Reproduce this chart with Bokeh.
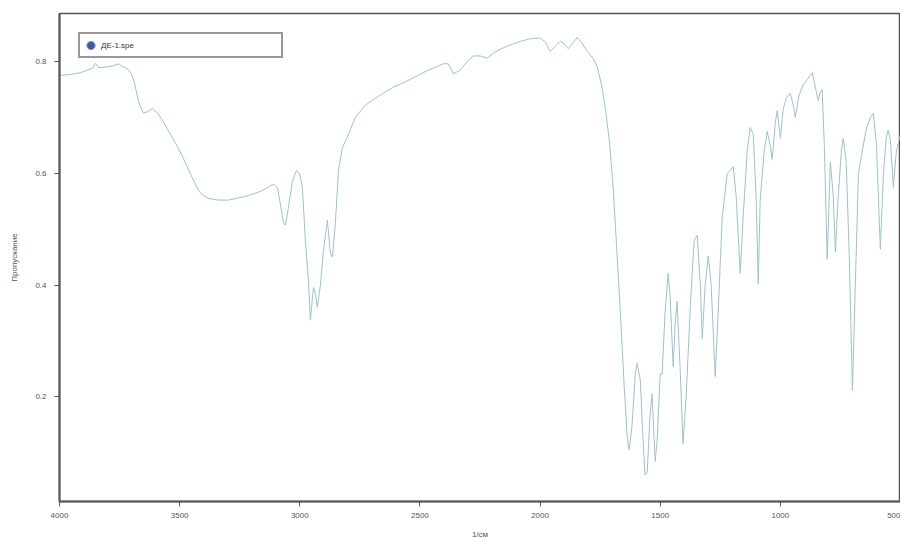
from bokeh.plotting import figure
from bokeh.models import ColumnDataSource, Range1d, Legend, LegendItem, FixedTicker
from bokeh.embed import file_html
from bokeh.resources import INLINE

# Wavenumber (1/см) and transmittance
wavenumber = [4000, 3954, 3913, 3863, 3850, 3838, 3809, 3780, 3755, 3734, 3717, 3700, 3688, 3671,
              3651, 3634, 3613, 3592, 3572, 3547, 3517, 3488, 3463, 3443, 3422, 3401, 3380, 3339,
              3297, 3255, 3214, 3172, 3143, 3122, 3106, 3093, 3081, 3068, 3060, 3047, 3031, 3014,
              3002, 2989, 2977, 2964, 2956, 2943, 2935, 2927, 2914, 2902, 2885, 2873, 2864, 2852,
              2839, 2823, 2802, 2769, 2727, 2665, 2611, 2540, 2469, 2423, 2403, 2382, 2369, 2361,
              2344, 2332, 2303, 2278, 2249, 2220, 2195, 2166, 2124, 2082, 2041, 1999, 1978, 1958,
              1941, 1916, 1899, 1883, 1866, 1845, 1824, 1803, 1778, 1762, 1745, 1729, 1712, 1695,
              1679, 1662, 1650, 1637, 1629, 1617, 1604, 1596, 1583, 1571, 1563, 1554, 1542, 1534,
              1521, 1513, 1500, 1492, 1480, 1467, 1459, 1446, 1438, 1430, 1417, 1405, 1392, 1375,
              1359, 1346, 1333, 1325, 1313, 1300, 1288, 1271, 1259, 1242, 1221, 1208, 1196, 1184,
              1167, 1155, 1138, 1126, 1113, 1101, 1092, 1084, 1067, 1055, 1042, 1034, 1021, 1013,
              1000, 988, 975, 959, 946, 938, 922, 905, 888, 876, 867, 855, 842, 834, 826, 817,
              805, 792, 780, 771, 759, 746, 738, 726, 713, 700, 688, 675, 659, 642, 625, 613,
              600, 592, 584, 571, 559, 551, 542, 530, 517, 500]
transmittance = [0.775, 0.777, 0.780, 0.788, 0.797, 0.789, 0.790, 0.792, 0.796, 0.790, 0.787, 0.778,
                 0.762, 0.728, 0.708, 0.710, 0.716, 0.708, 0.695, 0.676, 0.654, 0.630, 0.606, 0.588,
                 0.570, 0.560, 0.555, 0.552, 0.552, 0.556, 0.560, 0.566, 0.572, 0.578, 0.580, 0.574,
                 0.545, 0.512, 0.507, 0.539, 0.585, 0.605, 0.600, 0.575, 0.480, 0.409, 0.337, 0.396,
                 0.385, 0.360, 0.400, 0.460, 0.516, 0.457, 0.450, 0.510, 0.605, 0.645, 0.665, 0.700,
                 0.722, 0.740, 0.754, 0.768, 0.784, 0.792, 0.796, 0.796, 0.785, 0.778, 0.782, 0.785,
                 0.800, 0.810, 0.810, 0.806, 0.815, 0.822, 0.830, 0.836, 0.841, 0.842, 0.835, 0.818,
                 0.826, 0.836, 0.832, 0.823, 0.832, 0.843, 0.832, 0.818, 0.805, 0.790, 0.760, 0.718,
                 0.660, 0.570, 0.450, 0.320, 0.220, 0.125, 0.105, 0.150, 0.240, 0.260, 0.230, 0.120,
                 0.060, 0.065, 0.170, 0.205, 0.084, 0.120, 0.241, 0.240, 0.350, 0.421, 0.380, 0.254,
                 0.330, 0.371, 0.250, 0.116, 0.200, 0.360, 0.480, 0.489, 0.400, 0.304, 0.400, 0.452,
                 0.400, 0.236, 0.350, 0.520, 0.600, 0.605, 0.612, 0.560, 0.421, 0.520, 0.640, 0.682,
                 0.670, 0.560, 0.402, 0.552, 0.640, 0.675, 0.650, 0.625, 0.690, 0.712, 0.663, 0.715,
                 0.735, 0.743, 0.722, 0.700, 0.740, 0.758, 0.768, 0.775, 0.780, 0.755, 0.730, 0.745,
                 0.750, 0.650, 0.446, 0.620, 0.560, 0.459, 0.560, 0.640, 0.663, 0.620, 0.450, 0.211,
                 0.400, 0.600, 0.640, 0.680, 0.700, 0.707, 0.650, 0.560, 0.464, 0.600, 0.665, 0.677,
                 0.660, 0.575, 0.640, 0.670]

x_ticks = [4000, 3500, 3000, 2500, 2000, 1500, 1000, 500]
y_ticks = [0.2, 0.4, 0.6, 0.8]
series_name = "ДЕ-1.spe"
x_title = "1/см"
y_title = "Пропускание"

src = ColumnDataSource(dict(x=wavenumber, y=transmittance))
# legend proxy: a single marker placed outside the visible x range
proxy = ColumnDataSource(dict(x=[max(wavenumber) + 1000], y=[transmittance[0]]))

p = figure(width=900, height=541, output_backend="svg", toolbar_location=None,
           x_range=Range1d(4000, 500), y_range=Range1d(0.0125, 0.886),
           min_border_left=59, min_border_right=0, min_border_top=13, min_border_bottom=39,
           background_fill_color="white", border_fill_color="white")

line = p.line("x", "y", source=src, line_color="#9cc3c9", line_width=1.0)
marker = p.scatter("x", "y", source=proxy, marker="circle", size=11, fill_color="#3f5c9a",
                   line_color="#8aa0c8", line_width=1)

p.xgrid.visible = False
p.ygrid.visible = False
p.outline_line_color = "#555555"
p.outline_line_width = 1.5

p.xaxis.ticker = FixedTicker(ticks=x_ticks)
p.yaxis.ticker = FixedTicker(ticks=y_ticks)
p.xaxis.axis_label = x_title
p.yaxis.axis_label = y_title
for ax in (p.xaxis[0], p.yaxis[0]):
    ax.axis_line_color = "#555555"
    ax.axis_line_width = 2
    ax.major_tick_line_color = "#555555"
    ax.major_tick_out = 5
    ax.major_tick_in = 0
    ax.minor_tick_line_color = None
    ax.major_label_text_font = "Liberation Sans"
    ax.major_label_text_font_size = "8px"
    ax.major_label_text_color = "#555555"
    ax.axis_label_text_font = "Liberation Sans"
    ax.axis_label_text_font_size = "8px"
    ax.axis_label_text_font_style = "normal"
    ax.axis_label_text_color = "#555555"
p.xaxis.major_label_standoff = 6
p.xaxis.axis_label_standoff = 9
p.yaxis.major_label_standoff = 8
p.yaxis.axis_label_standoff = 13

legend = Legend(items=[LegendItem(label=series_name, renderers=[marker])],
                location=(19, 443), orientation="vertical")
legend.border_line_color = "#333333"
legend.border_line_width = 2
legend.background_fill_color = "white"
legend.background_fill_alpha = 1.0
legend.label_text_font = "Liberation Sans"
legend.label_text_font_size = "8px"
legend.label_text_color = "#333333"
legend.label_width = 180
legend.label_height = 22
legend.glyph_width = 21
legend.glyph_height = 22
legend.label_standoff = 0
legend.padding = 0
legend.margin = 0
legend.spacing = 0
p.add_layout(legend, "center")

open("out.html", "w").write(file_html(p, INLINE))
